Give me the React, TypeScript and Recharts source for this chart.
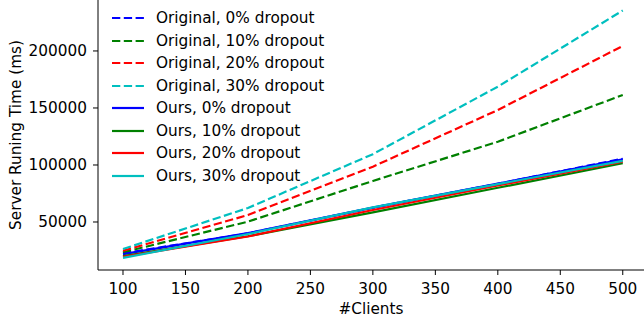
import React from 'react';
import { LineChart, Line, XAxis, YAxis, Legend } from 'recharts';

const clients = [100, 200, 300, 400, 500];
const original0 = [22500, 40000, 62500, 83500, 105500];
const original10 = [23400, 50300, 86000, 120400, 161400];
const original20 = [24800, 56100, 98500, 148200, 204400];
const original30 = [26300, 62300, 109500, 168700, 235500];
const ours0 = [21800, 40200, 62600, 83600, 105000];
const ours10 = [20000, 37500, 58500, 80000, 101500];
const ours20 = [19500, 37300, 60500, 82000, 103000];
const ours30 = [18500, 39500, 62800, 83200, 103600];
const xTicks = [100, 150, 200, 250, 300, 350, 400, 450, 500];
const yTicks = [50000, 100000, 150000, 200000];

const seriesList = [
  { key: 'o0', name: 'Original, 0% dropout', values: original0, color: '#0000ff', dashed: true },
  { key: 'o10', name: 'Original, 10% dropout', values: original10, color: '#008000', dashed: true },
  { key: 'o20', name: 'Original, 20% dropout', values: original20, color: '#ff0000', dashed: true },
  { key: 'o30', name: 'Original, 30% dropout', values: original30, color: '#00bfbf', dashed: true },
  { key: 'u0', name: 'Ours, 0% dropout', values: ours0, color: '#0000ff', dashed: false },
  { key: 'u10', name: 'Ours, 10% dropout', values: ours10, color: '#008000', dashed: false },
  { key: 'u20', name: 'Ours, 20% dropout', values: ours20, color: '#ff0000', dashed: false },
  { key: 'u30', name: 'Ours, 30% dropout', values: ours30, color: '#00bfbf', dashed: false },
];

const data = clients.map((c, i) => {
  const row: Record<string, number> = { clients: c };
  seriesList.forEach((s) => {
    row[s.key] = s.values[i];
  });
  return row;
});

const FONT = '"DejaVu Sans", sans-serif';
const DASH = '8.3 3.5';
const LW = 2.2;

const renderLegend = () => (
  <div style={{ fontFamily: FONT, fontSize: 15.3, color: '#000' }}>
    {seriesList.map((s) => (
      <div key={s.key} style={{ display: 'flex', alignItems: 'center', height: 22.5 }}>
        <svg width={44} height={10} style={{ display: 'block' }}>
          <line
            x1={0}
            y1={5}
            x2={32}
            y2={5}
            stroke={s.color}
            strokeWidth={LW}
            strokeDasharray={s.dashed ? DASH : undefined}
          />
        </svg>
        <span style={{ whiteSpace: 'nowrap', lineHeight: '22.5px' }}>{s.name}</span>
      </div>
    ))}
  </div>
);

export default function App() {
  return (
    <div style={{ position: 'absolute', left: 0, top: 0, width: 644, height: 325, background: '#fff' }}>
      <LineChart width={644} height={325} data={data} margin={{ top: 0, right: 0, bottom: 0, left: 0 }}>
        <XAxis
          dataKey="clients"
          type="number"
          domain={[80, 517]}
          ticks={xTicks}
          allowDataOverflow
          height={55}
          tickSize={5}
          tickMargin={8}
          stroke="#000"
          tick={{ fill: '#000', fontFamily: FONT, fontSize: 15.3 }}
          label={{ value: '#Clients', position: 'insideBottom', offset: 11, fill: '#000', fontFamily: FONT, fontSize: 15.3 }}
        />
        <YAxis
          type="number"
          domain={[7900, 244700]}
          ticks={yTicks}
          allowDataOverflow
          width={98}
          tickSize={5}
          tickMargin={6}
          stroke="#000"
          tick={{ fill: '#000', fontFamily: FONT, fontSize: 15.3 }}
          label={{
            value: 'Server Runing Time (ms)',
            angle: -90,
            position: 'insideLeft',
            offset: 16,
            fill: '#000',
            fontFamily: FONT,
            fontSize: 15.3,
            style: { textAnchor: 'middle' },
          }}
        />
        <Legend
          layout="vertical"
          align="center"
          verticalAlign="middle"
          content={renderLegend}
          wrapperStyle={{ position: 'absolute', left: 112, top: 7, width: 260, height: 185 }}
        />
        {seriesList.map((s) => (
          <Line
            key={s.key}
            dataKey={s.key}
            name={s.name}
            stroke={s.color}
            strokeWidth={LW}
            strokeDasharray={s.dashed ? DASH : undefined}
            dot={false}
            activeDot={false}
            isAnimationActive={false}
          />
        ))}
      </LineChart>
    </div>
  );
}
